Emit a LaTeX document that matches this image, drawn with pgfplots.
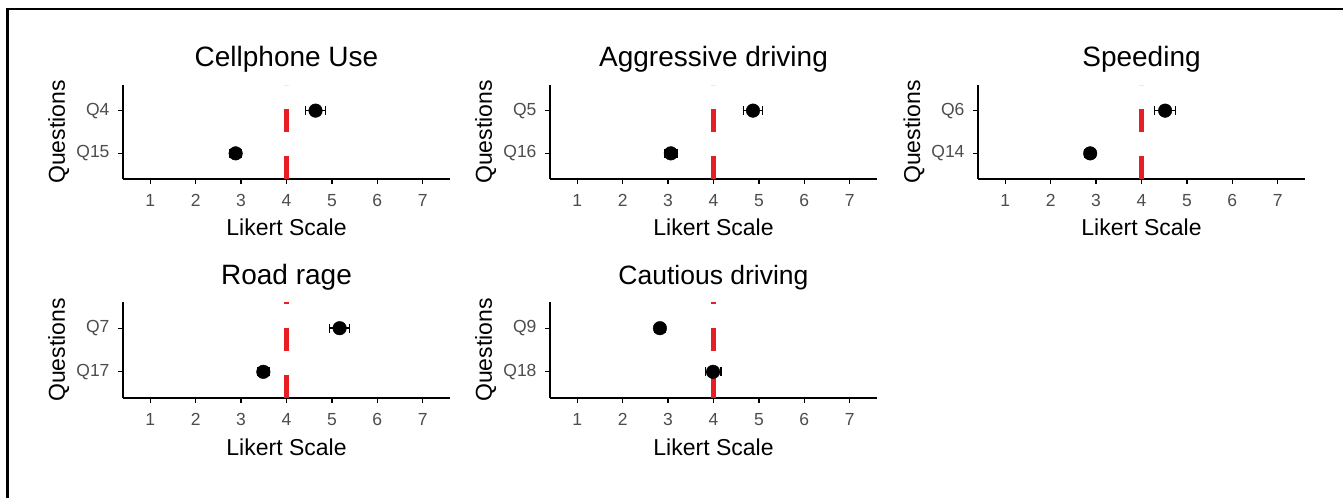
\documentclass[border=0pt]{standalone}
\usepackage{pgfplots}
\pgfplotsset{compat=1.18}
\usepackage{fontspec}
\setmainfont{Liberation Sans}
\definecolor{vred}{RGB}{232,30,37}
\definecolor{tickgray}{RGB}{77,77,77}
\pgfplotsset{
  likert/.style={
    width=327pt, height=94pt, scale only axis,
    xmin=0.4, xmax=7.6, ymin=0.4, ymax=2.6,
    axis lines*=left,
    axis line style={line width=1.2pt, black},
    xtick={1,2,3,4,5,6,7}, ytick={1,2},
    tick align=outside, major tick length=5pt,
    every tick/.style={black, line width=1.2pt},
    xticklabel style={font=\fontsize{17.5}{20}\selectfont, text=tickgray, yshift=-7pt},
    yticklabel style={font=\fontsize{17.5}{20}\selectfont, text=tickgray, xshift=-5pt},
    /pgf/number format/assume math mode=true,
    xlabel={Likert Scale}, ylabel={Questions},
    every axis x label/.style={at={(axis description cs:0.5,0)}, anchor=base, yshift=-57pt, font=\fontsize{23}{26}\selectfont},
    every axis y label/.style={at={(axis description cs:-0.1774,0.5)}, rotate=90, anchor=base, font=\fontsize{23}{26}\selectfont},
    every axis title/.style={at={(axis description cs:0.5,1)}, anchor=base, yshift=18pt, font=\fontsize{28}{32}\selectfont},
    clip=true,
  },
  pts/.style={only marks, mark=*, mark size=6.8pt, black,
    error bars/.cd, x dir=both, x explicit, error mark=|,
    error bar style={line width=1.6pt, black},
    error mark options={line width=1.6pt, mark size=4.5pt, black}},
  refline/.style={vred, line width=5pt, dash pattern=on 23.4pt off 23.6pt},
}
\begin{document}
\begin{tikzpicture}
\path[use as bounding box, fill=white] (0,0) rectangle (1343pt,498pt);
\draw[line width=2.5pt, black] (7.5pt,0) -- (7.5pt,489pt) -- (1343pt,489pt);

% Row 1
\begin{axis}[likert, at={(123pt,319pt)}, anchor=south west, title={Cellphone Use}, yticklabels={Q15,Q4}]
\addplot[pts] coordinates {(4.64,2) +- (0.22,0) (2.88,1) +- (0.12,0)};
\addplot[refline] coordinates {(4,0.4) (4,2.6)};
\end{axis}

\begin{axis}[likert, at={(550pt,319pt)}, anchor=south west, title={Aggressive driving}, yticklabels={Q16,Q5}]
\addplot[pts] coordinates {(4.87,2) +- (0.21,0) (3.06,1) +- (0.13,0)};
\addplot[refline] coordinates {(4,0.4) (4,2.6)};
\end{axis}

\begin{axis}[likert, at={(978pt,319pt)}, anchor=south west, title={Speeding}, yticklabels={Q14,Q6}]
\addplot[pts] coordinates {(4.52,2) +- (0.23,0) (2.87,1) +- (0.12,0)};
\addplot[refline] coordinates {(4,0.4) (4,2.6)};
\end{axis}

% Row 2
\begin{axis}[likert, height=96pt, at={(123pt,100pt)}, anchor=south west, title={Road rage}, yticklabels={Q17,Q7}]
\addplot[pts] coordinates {(5.17,2) +- (0.22,0) (3.49,1) +- (0.13,0)};
\addplot[refline] coordinates {(4,0.4) (4,2.6)};
\end{axis}

\begin{axis}[likert, height=96pt, at={(550pt,100pt)}, anchor=south west, title={Cautious driving}, yticklabels={Q18,Q9},
  every axis title/.style={at={(axis description cs:0.5,1)}, anchor=base, yshift=18pt, font=\fontsize{26.5}{30}\selectfont}]
\addplot[pts] coordinates {(2.82,2) +- (0.12,0) (3.99,1) +- (0.17,0)};
\addplot[refline] coordinates {(4,0.4) (4,2.6)};
\end{axis}
\end{tikzpicture}
\end{document}
